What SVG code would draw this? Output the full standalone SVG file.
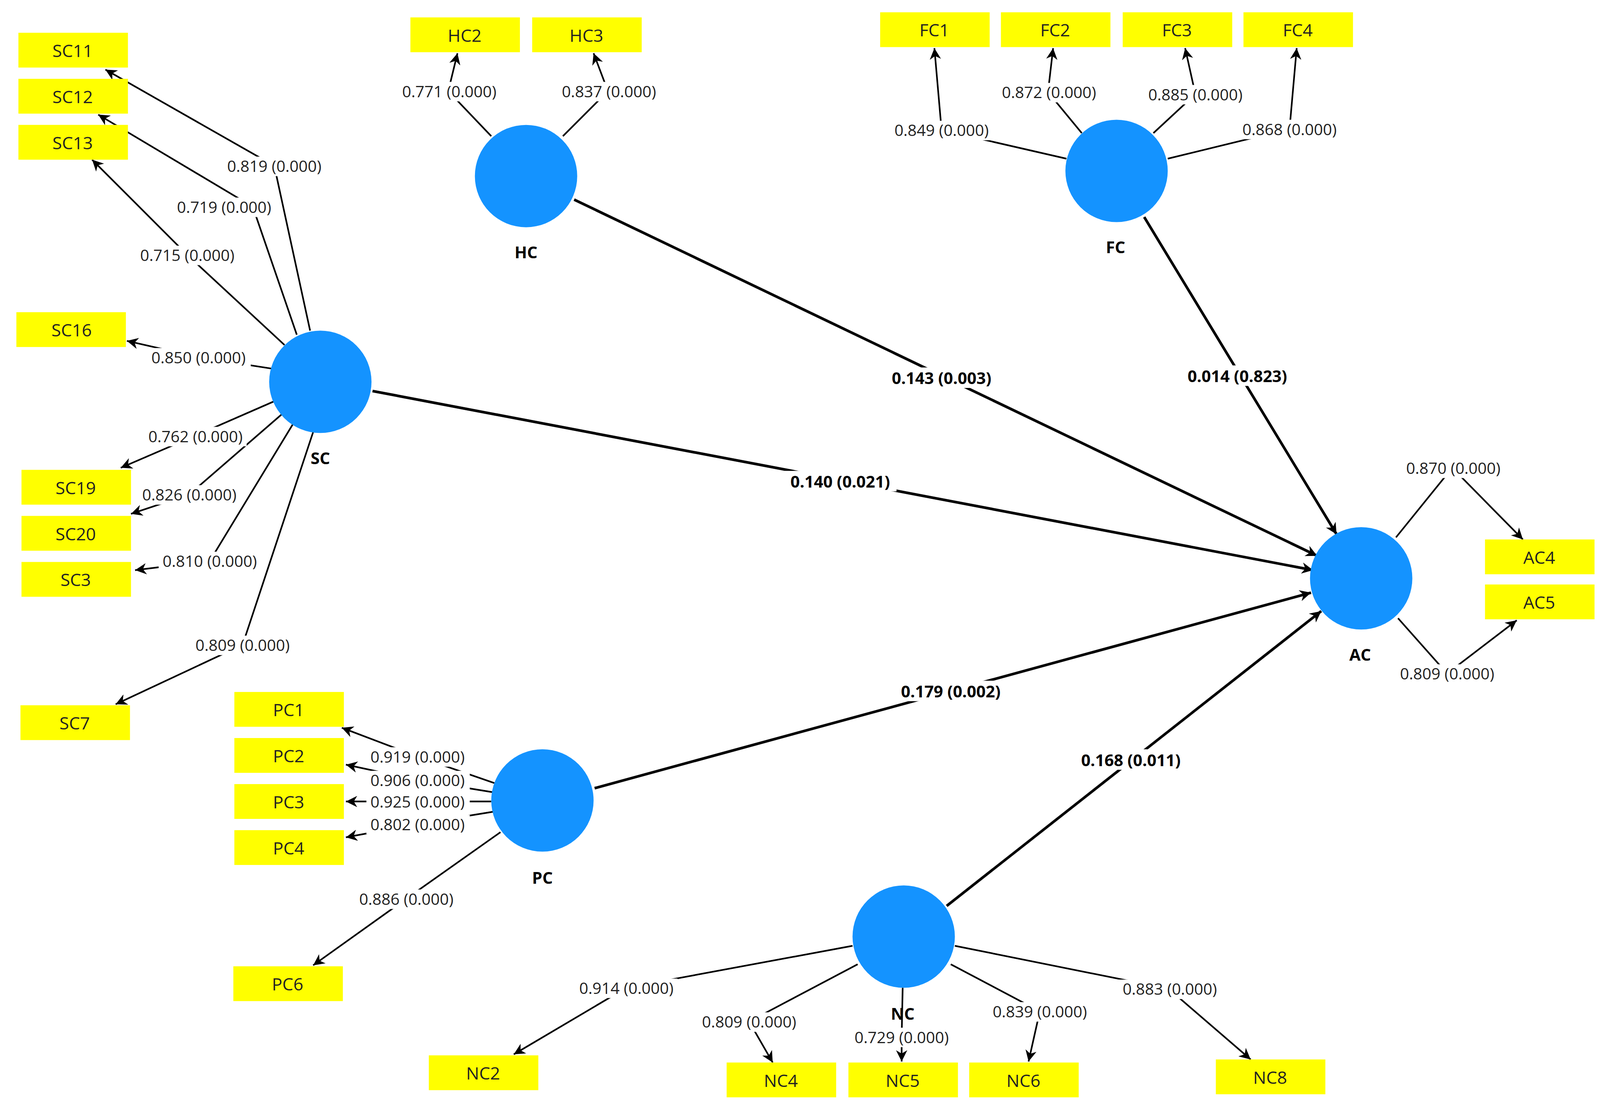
<svg xmlns="http://www.w3.org/2000/svg" width="4108" height="2859" viewBox="0 0 4108 2859">
<defs>
<style>
.box{fill:#ffff00}
.bt{font-family:"Open Sans","Noto Sans",sans-serif;font-size:17px;fill:#222;text-anchor:middle;dominant-baseline:central}
.lv{fill:#1493ff}
.ln{font-family:"Open Sans","Noto Sans",sans-serif;font-size:16px;font-weight:bold;fill:#000;text-anchor:middle;dominant-baseline:central}
.ld{fill:none;stroke:#000;stroke-width:1.6}
.st{fill:none;stroke:#000;stroke-width:2.6}
.lt{font-family:"Open Sans","Noto Sans",sans-serif;font-size:15.5px;fill:#222;text-anchor:middle;dominant-baseline:central}
.pt{font-family:"Open Sans","Noto Sans",sans-serif;font-size:16px;font-weight:bold;fill:#000;text-anchor:middle;dominant-baseline:central}
.bg{fill:#fff}
</style>
<marker id="ar" viewBox="0 0 10 10" refX="10" refY="5" markerWidth="11" markerHeight="11" markerUnits="userSpaceOnUse" orient="auto"><path d="M0,0 L10,5 L0,10 L3,5 z" fill="#000"/></marker>
</defs>
<rect width="4108" height="2859" fill="#fff"/>
<g transform="scale(2.62)">
<g id="connectors">
<polyline class="ld" points="303,323 268,162 103,68" marker-end="url(#ar)"/>
<polyline class="ld" points="290,327 247,202 96,112" marker-end="url(#ar)"/>
<polyline class="ld" points="278,337 183,249 90,156" marker-end="url(#ar)"/>
<polyline class="ld" points="265,360 194,349 124,333" marker-end="url(#ar)"/>
<polyline class="ld" points="268,392 190,426 118,457" marker-end="url(#ar)"/>
<polyline class="ld" points="275,405 185,483 128,502" marker-end="url(#ar)"/>
<polyline class="ld" points="287,413 205,548 132,557" marker-end="url(#ar)"/>
<polyline class="ld" points="306,422 237,630 113,688" marker-end="url(#ar)"/>
<polyline class="ld" points="480,133 438,89 447,52" marker-end="url(#ar)"/>
<polyline class="ld" points="550,133 594,89 580,52" marker-end="url(#ar)"/>
<polyline class="ld" points="1042,155 920,127 913,47" marker-end="url(#ar)"/>
<polyline class="ld" points="1057,130 1024,90 1029,47" marker-end="url(#ar)"/>
<polyline class="ld" points="1127,130 1168,92 1158,47" marker-end="url(#ar)"/>
<polyline class="ld" points="1141,155 1260,126 1267,47" marker-end="url(#ar)"/>
<polyline class="ld" points="1364,525 1419,457 1488,527" marker-end="url(#ar)"/>
<polyline class="ld" points="1366,604 1414,658 1482,606" marker-end="url(#ar)"/>
<polyline class="ld" points="483,765 408,739 334,711" marker-end="url(#ar)"/>
<polyline class="ld" points="482,774 408,762 338,747" marker-end="url(#ar)"/>
<polyline class="ld" points="480,783 408,783 338,783" marker-end="url(#ar)"/>
<polyline class="ld" points="482,793 408,805 338,818" marker-end="url(#ar)"/>
<polyline class="ld" points="489,813 397,878 306,943" marker-end="url(#ar)"/>
<polyline class="ld" points="833,924 612,965 502,1030" marker-end="url(#ar)"/>
<polyline class="ld" points="838,942 732,998 755,1038" marker-end="url(#ar)"/>
<polyline class="ld" points="882,965 881,1013 881,1037" marker-end="url(#ar)"/>
<polyline class="ld" points="929,942 1016,988 1005,1037" marker-end="url(#ar)"/>
<polyline class="ld" points="933,924 1142,966 1222,1035" marker-end="url(#ar)"/>
<line class="st" x1="364" y1="382" x2="1283" y2="557" marker-end="url(#ar)"/>
<line class="st" x1="561" y1="195" x2="1287" y2="543" marker-end="url(#ar)"/>
<line class="st" x1="1118" y1="212" x2="1306" y2="522" marker-end="url(#ar)"/>
<line class="st" x1="581" y1="770" x2="1281" y2="579" marker-end="url(#ar)"/>
<line class="st" x1="925" y1="885" x2="1291" y2="597" marker-end="url(#ar)"/>
<g>
<rect class="bg" x="218" y="153" width="101" height="19"/><text class="lt" x="268" y="162">0.819 (0.000)</text>
<rect class="bg" x="168" y="193" width="101" height="19"/><text class="lt" x="219" y="202">0.719 (0.000)</text>
<rect class="bg" x="133" y="240" width="101" height="19"/><text class="lt" x="183" y="249">0.715 (0.000)</text>
<rect class="bg" x="144" y="340" width="101" height="19"/><text class="lt" x="194" y="349">0.850 (0.000)</text>
<rect class="bg" x="140" y="417" width="101" height="19"/><text class="lt" x="191" y="426">0.762 (0.000)</text>
<rect class="bg" x="135" y="474" width="101" height="19"/><text class="lt" x="185" y="483">0.826 (0.000)</text>
<rect class="bg" x="155" y="539" width="101" height="19"/><text class="lt" x="205" y="548">0.810 (0.000)</text>
<rect class="bg" x="187" y="621" width="101" height="19"/><text class="lt" x="237" y="630">0.809 (0.000)</text>
<rect class="bg" x="388" y="80" width="101" height="19"/><text class="lt" x="439" y="89">0.771 (0.000)</text>
<rect class="bg" x="544" y="80" width="101" height="19"/><text class="lt" x="595" y="89">0.837 (0.000)</text>
<rect class="bg" x="870" y="118" width="101" height="19"/><text class="lt" x="920" y="127">0.849 (0.000)</text>
<rect class="bg" x="974" y="81" width="101" height="19"/><text class="lt" x="1025" y="90">0.872 (0.000)</text>
<rect class="bg" x="1118" y="83" width="101" height="19"/><text class="lt" x="1168" y="92">0.885 (0.000)</text>
<rect class="bg" x="1210" y="117" width="101" height="19"/><text class="lt" x="1260" y="126">0.868 (0.000)</text>
<rect class="bg" x="1369" y="448" width="101" height="19"/><text class="lt" x="1420" y="457">0.870 (0.000)</text>
<rect class="bg" x="1363" y="649" width="101" height="19"/><text class="lt" x="1414" y="658">0.809 (0.000)</text>
<rect class="bg" x="358" y="730" width="101" height="19"/><text class="lt" x="408" y="739">0.919 (0.000)</text>
<rect class="bg" x="358" y="753" width="101" height="19"/><text class="lt" x="408" y="762">0.906 (0.000)</text>
<rect class="bg" x="358" y="774" width="101" height="19"/><text class="lt" x="408" y="783">0.925 (0.000)</text>
<rect class="bg" x="358" y="796" width="101" height="19"/><text class="lt" x="408" y="805">0.802 (0.000)</text>
<rect class="bg" x="347" y="869" width="101" height="19"/><text class="lt" x="397" y="878">0.886 (0.000)</text>
<rect class="bg" x="561" y="956" width="101" height="19"/><text class="lt" x="612" y="965">0.914 (0.000)</text>
<rect class="bg" x="681" y="989" width="101" height="19"/><text class="lt" x="732" y="998">0.809 (0.000)</text>
<rect class="bg" x="831" y="1004" width="101" height="19"/><text class="lt" x="881" y="1013">0.729 (0.000)</text>
<rect class="bg" x="966" y="979" width="101" height="19"/><text class="lt" x="1016" y="988">0.839 (0.000)</text>
<rect class="bg" x="1093" y="957" width="101" height="19"/><text class="lt" x="1143" y="966">0.883 (0.000)</text>
<rect class="bg" x="766" y="460" width="110" height="20"/><text class="pt" x="821" y="470">0.140 (0.021)</text>
<rect class="bg" x="865" y="359" width="110" height="20"/><text class="pt" x="920" y="369">0.143 (0.003)</text>
<rect class="bg" x="1154" y="357" width="110" height="20"/><text class="pt" x="1209" y="367">0.014 (0.823)</text>
<rect class="bg" x="874" y="665" width="110" height="20"/><text class="pt" x="929" y="675">0.179 (0.002)</text>
<rect class="bg" x="1050" y="732" width="110" height="20"/><text class="pt" x="1105" y="742">0.168 (0.011)</text>
</g>
</g>
<g id="HC"><circle class="lv" cx="514" cy="172" r="50"/><text class="ln" x="514" y="246">HC</text></g>
<g id="FC"><circle class="lv" cx="1091" cy="167" r="50"/><text class="ln" x="1090" y="241">FC</text></g>
<g id="SC"><circle class="lv" cx="313" cy="373" r="50"/><text class="ln" x="313" y="447">SC</text></g>
<g id="AC"><circle class="lv" cx="1330" cy="565" r="50"/><text class="ln" x="1329" y="639">AC</text></g>
<g id="PC"><circle class="lv" cx="530" cy="782" r="50"/><text class="ln" x="530" y="857">PC</text></g>
<g id="NC"><circle class="lv" cx="883" cy="915" r="50"/><text class="ln" x="882" y="990">NC</text></g>
<g id="SC11"><rect class="box" x="18" y="32" width="107" height="34"/><text class="bt" x="71" y="49">SC11</text></g>
<g id="SC12"><rect class="box" x="18" y="77" width="107" height="34"/><text class="bt" x="71" y="94">SC12</text></g>
<g id="SC13"><rect class="box" x="18" y="122" width="107" height="34"/><text class="bt" x="71" y="139">SC13</text></g>
<g id="SC16"><rect class="box" x="16" y="305" width="107" height="34"/><text class="bt" x="70" y="322">SC16</text></g>
<g id="SC19"><rect class="box" x="21" y="459" width="107" height="34"/><text class="bt" x="74" y="476">SC19</text></g>
<g id="SC20"><rect class="box" x="21" y="504" width="107" height="34"/><text class="bt" x="74" y="521">SC20</text></g>
<g id="SC3"><rect class="box" x="21" y="549" width="107" height="34"/><text class="bt" x="74" y="566">SC3</text></g>
<g id="SC7"><rect class="box" x="20" y="689" width="107" height="34"/><text class="bt" x="73" y="706">SC7</text></g>
<g id="HC2"><rect class="box" x="401" y="17" width="107" height="34"/><text class="bt" x="454" y="34">HC2</text></g>
<g id="HC3"><rect class="box" x="520" y="17" width="107" height="34"/><text class="bt" x="573" y="34">HC3</text></g>
<g id="FC1"><rect class="box" x="860" y="12" width="107" height="34"/><text class="bt" x="913" y="29">FC1</text></g>
<g id="FC2"><rect class="box" x="978" y="12" width="107" height="34"/><text class="bt" x="1031" y="29">FC2</text></g>
<g id="FC3"><rect class="box" x="1097" y="12" width="107" height="34"/><text class="bt" x="1150" y="29">FC3</text></g>
<g id="FC4"><rect class="box" x="1215" y="12" width="107" height="34"/><text class="bt" x="1268" y="29">FC4</text></g>
<g id="AC4"><rect class="box" x="1451" y="527" width="107" height="34"/><text class="bt" x="1504" y="544">AC4</text></g>
<g id="AC5"><rect class="box" x="1451" y="571" width="107" height="34"/><text class="bt" x="1504" y="588">AC5</text></g>
<g id="PC1"><rect class="box" x="229" y="676" width="107" height="34"/><text class="bt" x="282" y="693">PC1</text></g>
<g id="PC2"><rect class="box" x="229" y="721" width="107" height="34"/><text class="bt" x="282" y="738">PC2</text></g>
<g id="PC3"><rect class="box" x="229" y="766" width="107" height="34"/><text class="bt" x="282" y="783">PC3</text></g>
<g id="PC4"><rect class="box" x="229" y="811" width="107" height="34"/><text class="bt" x="282" y="828">PC4</text></g>
<g id="PC6"><rect class="box" x="228" y="944" width="107" height="34"/><text class="bt" x="281" y="961">PC6</text></g>
<g id="NC2"><rect class="box" x="419" y="1031" width="107" height="34"/><text class="bt" x="472" y="1048">NC2</text></g>
<g id="NC4"><rect class="box" x="710" y="1038" width="107" height="34"/><text class="bt" x="763" y="1055">NC4</text></g>
<g id="NC5"><rect class="box" x="829" y="1038" width="107" height="34"/><text class="bt" x="882" y="1055">NC5</text></g>
<g id="NC6"><rect class="box" x="947" y="1038" width="107" height="34"/><text class="bt" x="1000" y="1055">NC6</text></g>
<g id="NC8"><rect class="box" x="1188" y="1035" width="107" height="34"/><text class="bt" x="1241" y="1052">NC8</text></g>
</g>
</svg>
